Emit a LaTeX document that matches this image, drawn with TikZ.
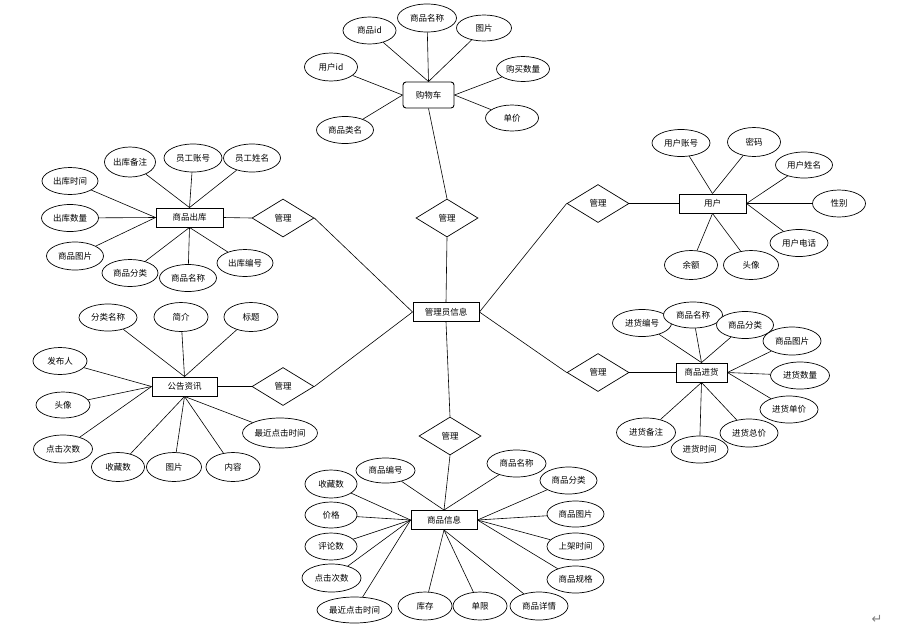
\documentclass[tikz,border=0pt]{standalone}
\usepackage{fontspec}
\newfontfamily\cjk{Noto Sans CJK SC}
\newfontfamily\dejavu{DejaVu Sans}
\usetikzlibrary{shapes.geometric}
\begin{document}
\begin{tikzpicture}[x=1pt,y=-1pt,
  every node/.style={font=\cjk\fontsize{8.5}{10}\selectfont, inner sep=0pt},
  attr/.style={ellipse, draw, fill=white, line width=0.7pt, minimum width=56pt, minimum height=27pt},
  ent/.style={rectangle, draw, fill=white, line width=0.9pt, minimum width=66pt, minimum height=19pt},
  rel/.style={diamond, draw, fill=white, line width=0.7pt, minimum width=62pt, minimum height=38pt},
  link/.style={line width=0.6pt}]
\useasboundingbox (0,0) rectangle (901,625);

% central entity and relationships
\node[ent] (admin) at (446,312) {管理员信息};
\node[rel] (r1) at (447,218) {管理};
\node[rel] (r2) at (283,218) {管理};
\node[rel] (r3) at (598,203.5) {管理};
\node[rel] (r4) at (283,386.5) {管理};
\node[rel] (r5) at (598,372.5) {管理};
\node[rel] (r6) at (450,436) {管理};

% entities
\node[ent, rounded corners=3pt, minimum width=51pt, minimum height=26pt] (cart) at (428.5,95) {购物车};
\node[ent, minimum width=67pt] (out) at (189.5,217.5) {商品出库};
\node[ent, minimum width=67pt] (user) at (712.5,203.5) {用户};
\node[ent, minimum width=65pt] (news) at (184.5,386.5) {公告资讯};
\node[ent, minimum width=51pt] (inb) at (701.5,372.5) {商品进货};
\node[ent] (goods) at (444,520) {商品信息};

% cart attributes
\node[attr, minimum width=53pt] (c1) at (369.5,30.5) {商品id};
\node[attr, minimum width=59pt, minimum height=28pt] (c2) at (427,18) {商品名称};
\node[attr, minimum width=55pt, minimum height=26pt] (c3) at (484,28) {图片};
\node[attr, minimum width=53pt, minimum height=28pt] (c4) at (331,67) {用户id};
\node[attr, minimum width=53pt, minimum height=25pt] (c5) at (523,69) {购买数量};
\node[attr, minimum width=53pt, minimum height=26pt] (c6) at (512,118) {单价};
\node[attr, minimum width=57pt] (c7) at (345,130) {商品类名};

% outbound attributes
\node[attr, minimum width=51pt, minimum height=30pt] (o1) at (130,162) {出库备注};
\node[attr, minimum width=58pt, minimum height=28pt] (o2) at (193,158) {员工账号};
\node[attr, minimum width=57pt, minimum height=28pt] (o3) at (252,158) {员工姓名};
\node[attr] (o4) at (70,181) {出库时间};
\node[attr, minimum width=57pt] (o5) at (70,218) {出库数量};
\node[attr, minimum width=57pt, minimum height=28pt] (o6) at (75,256) {商品图片};
\node[attr] (o7) at (130,273) {商品分类};
\node[attr, minimum width=57pt] (o8) at (188,278) {商品名称};
\node[attr] (o9) at (245,263) {出库编号};

% user attributes
\node[attr, minimum width=58pt] (u1) at (681,143) {用户账号};
\node[attr, minimum width=53pt, minimum height=29pt] (u2) at (754,142) {密码};
\node[attr, minimum width=57pt, minimum height=26pt] (u3) at (804,165) {用户姓名};
\node[attr, minimum width=53pt] (u4) at (839,203.5) {性别};
\node[attr, minimum width=58pt] (u5) at (799,243) {用户电话};
\node[attr, minimum width=53pt, minimum height=29pt] (u6) at (691,265) {余额};
\node[attr, minimum width=55pt, minimum height=29pt] (u7) at (751,265) {头像};

% news attributes
\node[attr, minimum width=58pt] (n1) at (108,317.5) {分类名称};
\node[attr, minimum width=54pt, minimum height=29pt] (n2) at (181,317) {简介};
\node[attr, minimum width=54pt, minimum height=29pt] (n3) at (251,317) {标题};
\node[attr, minimum width=54pt] (n4) at (60,361) {发布人};
\node[attr, minimum width=54pt, minimum height=26pt] (n5) at (63,405) {头像};
\node[attr, minimum width=59pt, minimum height=28pt] (n6) at (63,449) {点击次数};
\node[attr, minimum width=53pt, minimum height=29pt] (n7) at (118,467) {收藏数};
\node[attr, minimum width=55pt, minimum height=29pt] (n8) at (174,467) {图片};
\node[attr, minimum width=54pt, minimum height=29pt] (n9) at (233,467) {内容};
\node[attr, minimum width=75pt, minimum height=30pt] (n10) at (280,433) {最近点击时间};

% inbound attributes
\node[attr, minimum width=59pt] (i1) at (642,323) {进货编号};
\node[attr, minimum width=59pt, minimum height=26pt] (i2) at (693,315) {商品名称};
\node[attr, minimum width=57pt] (i3) at (745,325) {商品分类};
\node[attr, minimum width=58pt, minimum height=28pt] (i4) at (792,341) {商品图片};
\node[attr, minimum width=59pt] (i5) at (800,375.5) {进货数量};
\node[attr, minimum width=58pt] (i6) at (789,409.5) {进货单价};
\node[attr, minimum width=58pt, minimum height=28pt] (i7) at (749,433) {进货总价};
\node[attr, minimum width=57pt] (i8) at (699.5,449.5) {进货时间};
\node[attr, minimum width=59pt, minimum height=29pt] (i9) at (646,432.5) {进货备注};

% goods attributes
\node[attr, minimum width=59pt, minimum height=25pt] (g1) at (385.5,470.5) {商品编号};
\node[attr, minimum width=59pt] (g2) at (516.5,463.5) {商品名称};
\node[attr, minimum width=57pt] (g3) at (568.5,480.5) {商品分类};
\node[attr, minimum width=57pt, minimum height=26pt] (g4) at (575.5,514) {商品图片};
\node[attr, minimum width=57pt] (g5) at (575.5,546.5) {上架时间};
\node[attr, minimum width=57pt] (g6) at (575.5,579.5) {商品规格};
\node[attr, minimum width=58pt, minimum height=28pt] (g7) at (539,606) {商品详情};
\node[attr, minimum width=54pt, minimum height=28pt] (g8) at (480,606) {单限};
\node[attr, minimum width=54pt, minimum height=28pt] (g9) at (425,606) {库存};
\node[attr, minimum width=75pt, minimum height=26pt] (g10) at (354.5,610) {最近点击时间};
\node[attr, minimum width=59pt, minimum height=28pt] (g11) at (331.5,578) {点击次数};
\node[attr, minimum width=52pt] (g12) at (331,546.5) {评论数};
\node[attr, minimum width=52pt, minimum height=26pt] (g13) at (331,515) {价格};
\node[attr, minimum width=52pt, minimum height=28pt] (g14) at (331,484) {收藏数};

% paragraph mark
\node[font=\dejavu\fontsize{13}{14}\selectfont, text=gray] (pm) at (877,619) {↵};

% relationship connectors
\draw[link] (cart.south) -- (r1.north);
\draw[link] (r1.south) -- (admin.north);
\draw[link] (admin.south) -- (r6.north);
\draw[link] (r6.south) -- (goods.north);
\draw[link] (out.east) -- (r2.west);
\draw[link] (r2.east) -- (admin.west);
\draw[link] (news.east) -- (r4.west);
\draw[link] (r4.east) -- (admin.west);
\draw[link] (user.west) -- (r3.east);
\draw[link] (r3.west) -- (admin.east);
\draw[link] (inb.west) -- (r5.east);
\draw[link] (r5.west) -- (admin.east);

% attribute connectors
\foreach \a in {c1,c2,c3} \draw[link] (cart.north) -- (\a);
\foreach \a in {c4,c7} \draw[link] (cart.west) -- (\a);
\foreach \a in {c5,c6} \draw[link] (cart.east) -- (\a);

\foreach \a in {o1,o2,o3} \draw[link] (out.north) -- (\a);
\foreach \a in {o4,o5,o6} \draw[link] (out.west) -- (\a);
\foreach \a in {o7,o8,o9} \draw[link] (out.south) -- (\a);

\foreach \a in {u1,u2} \draw[link] (user.north) -- (\a);
\foreach \a in {u3,u4,u5} \draw[link] (user.east) -- (\a);
\foreach \a in {u6,u7} \draw[link] (user.south) -- (\a);

\foreach \a in {n1,n2,n3} \draw[link] (news.north) -- (\a);
\foreach \a in {n4,n5,n6} \draw[link] (news.west) -- (\a);
\foreach \a in {n7,n8,n9,n10} \draw[link] (news.south) -- (\a);

\foreach \a in {i1,i2,i3} \draw[link] (inb.north) -- (\a);
\foreach \a in {i4,i5,i6} \draw[link] (inb.east) -- (\a);
\foreach \a in {i7,i8,i9} \draw[link] (inb.south) -- (\a);

\foreach \a in {g1,g2} \draw[link] (goods.north) -- (\a);
\foreach \a in {g3,g4,g5,g6} \draw[link] (goods.east) -- (\a);
\foreach \a in {g7,g8,g9} \draw[link] (goods.south) -- (\a);
\foreach \a in {g10,g11,g12,g13,g14} \draw[link] (goods.west) -- (\a);
\end{tikzpicture}
\end{document}
